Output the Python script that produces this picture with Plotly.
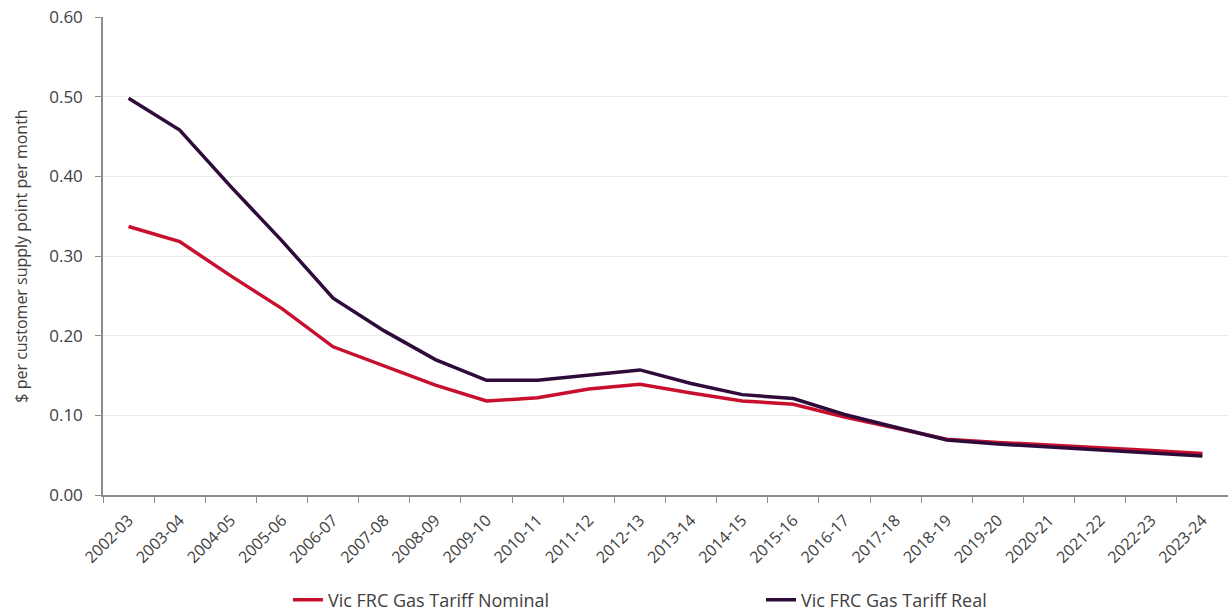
import plotly.graph_objects as go

years = ["2002-03", "2003-04", "2004-05", "2005-06", "2006-07", "2007-08",
         "2008-09", "2009-10", "2010-11", "2011-12", "2012-13", "2013-14",
         "2014-15", "2015-16", "2016-17", "2017-18", "2018-19", "2019-20",
         "2020-21", "2021-22", "2022-23", "2023-24"]

nominal = [0.337, 0.318, 0.275, 0.234, 0.186, 0.162, 0.138, 0.118, 0.122,
           0.133, 0.139, 0.128, 0.118, 0.114, 0.098, 0.084, 0.070, 0.066,
           0.063, 0.059, 0.056, 0.052]

real = [0.498, 0.458, 0.387, 0.319, 0.247, 0.206, 0.170, 0.144, 0.144,
        0.151, 0.157, 0.140, 0.126, 0.121, 0.101, 0.085, 0.069, 0.064,
        0.060, 0.056, 0.053, 0.049]

y_ticks = [0.0, 0.1, 0.2, 0.3, 0.4, 0.5, 0.6]

RED = "#C8102E"
PURPLE = "#2E0B3A"
TEXT = "#404040"
AXIS = "#8C8C8C"
FONT = "Open Sans, sans-serif"

fig = go.Figure()
fig.add_trace(go.Scatter(x=years, y=nominal, mode="lines",
                         name="Vic FRC Gas Tariff Nominal", legend="legend",
                         line=dict(color=RED, width=3.5)))
fig.add_trace(go.Scatter(x=years, y=real, mode="lines",
                         name="Vic FRC Gas Tariff Real", legend="legend2",
                         line=dict(color=PURPLE, width=3.5)))

legend_style = dict(orientation="h", xanchor="left", yref="container",
                    y=0.0196, yanchor="middle", bgcolor="rgba(0,0,0,0)",
                    font=dict(family=FONT, size=18, color=TEXT))

fig.update_layout(
    width=1228, height=612,
    margin=dict(l=103, r=0, t=17, b=117, autoexpand=False),
    plot_bgcolor="white", paper_bgcolor="white",
    font=dict(family=FONT, size=16, color=TEXT),
    showlegend=True,
    legend=dict(x=0.1644, **legend_style),
    legend2=dict(x=0.5849, **legend_style),
)

fig.update_xaxes(
    type="category", range=[-0.5, 21.5], tickangle=-45,
    tickson="boundaries", ticks="outside", ticklen=6, tickcolor=AXIS,
    showline=True, linecolor=AXIS, linewidth=1.5, showgrid=False,
    tickfont=dict(family=FONT, size=16, color=TEXT), ticklabelstandoff=8,
)
fig.update_yaxes(
    range=[0, 0.6], tickvals=y_ticks, tickformat=".2f",
    ticks="outside", ticklen=6, tickcolor=AXIS,
    showline=True, linecolor=AXIS, linewidth=1.5,
    showgrid=True, gridcolor="#EBEBEB", gridwidth=1, zeroline=False,
    tickfont=dict(family=FONT, size=17, color=TEXT), ticklabelstandoff=9,
    title=dict(text="$ per customer supply point per month", standoff=18,
               font=dict(family=FONT, size=16, color=TEXT)),
)

fig.write_html("out.html")
